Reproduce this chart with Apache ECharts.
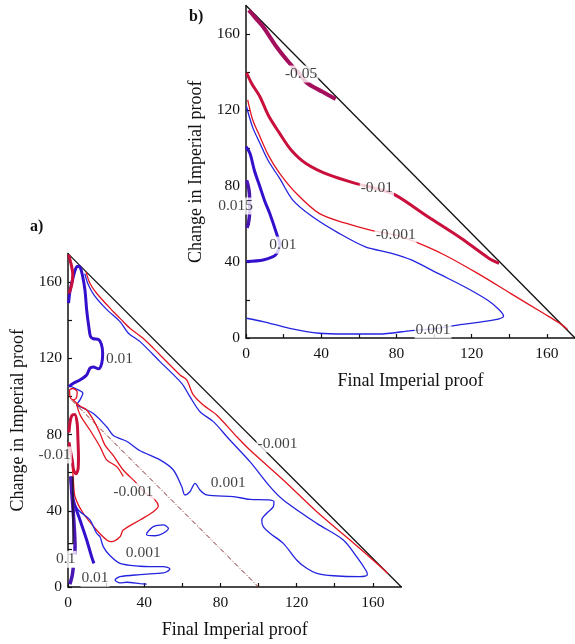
<!DOCTYPE html>
<html><head><meta charset="utf-8">
<script src="https://cdn.jsdelivr.net/npm/echarts@6/dist/echarts.min.js"></script>
<style>html,body{margin:0;padding:0;background:#fff;}#c{width:575px;height:644px;}</style>
</head><body><div id="c"></div>
<script>
// ---------- data: axis ticks ----------
const tickValues = [0, 20, 40, 60, 80, 100, 120, 140, 160];
const labelValues = [0, 40, 80, 120, 160];
const axisMax = 175;
const xTitle = 'Final Imperial proof';
const yTitle = 'Change in Imperial proof';

// ---------- panel a contours ----------
const aDiagonal = [[0, 175], [175, 0]];
const aDashDot = [[2, 98], [100, 0]];
const aRedDiag = [[9.5,165.3],[11.5,159.4],[15,154.2],[23.8,144.5],[27.3,141],[32.5,135.8],[40.4,129.7],[48.3,121.8],[58.8,111.3],[62.3,108.7],[65.8,100.8],[71,95.5],[78,90.3],[88.6,78.9],[95.5,71.9],[113,56.2],[130.6,39.5],[148,24.7],[162,12.5],[168,7]];
const aBlueBig = [[8.8,164.5],[10.5,159],[13.5,153.5],[20,146],[27.3,139.3],[31.7,133.2],[37.8,128.8],[48.3,118.3],[59.7,106.9],[64,99.9],[69.3,92],[76.3,86.8],[84.1,78.1],[95.5,65.8],[106,52.7],[113,45.7],[130.6,33.4],[144.5,24.7],[151.5,15.9],[156.8,8],[157.1,6.3],[153.3,5.4],[139.3,5.9],[130.6,7.2],[125.3,9.8],[120,14.2],[113,22.9],[106,28.2],[102.5,31.7],[101.7,35.2],[104.3,38.7],[107.8,42.2],[108.1,44.8],[105.1,45.7],[95.5,46],[86.8,47.4],[72.8,48.3],[69.3,50.9],[66.7,54.4],[64,50],[61.4,48.3],[59.7,52.7],[55.3,61.4],[48.3,66.7],[37.8,71.5],[30.8,76.5],[23.8,79.5],[20.3,84.1],[13.3,91.1],[6.3,94.6],[4.5,95.5],[6.3,98.2],[7.8,101.7],[4,104.2],[1,105.5]];
const aBlueThick = [[0.3,149],[1,155],[2.8,162.9],[4.2,167.5],[5.4,168.3],[6.5,167.5],[7.5,164],[8.9,155.9],[9.8,145.4],[11,136],[11.8,131.5],[13.3,130.3],[15.9,130],[17.5,127.5],[18.2,122.7],[17.7,117.4],[16,114.5],[13.3,115.5],[11.5,114.8],[9.8,111.3],[6.3,108.7],[2.8,106.9],[0.5,105.2]];
const aRedTop = [[0.3,174.5],[1.5,170],[2.5,164],[2,159],[0.5,154]];
const aRedThick = [[0.5,81],[1,86],[2,90],[3.5,90.5],[4.8,86],[5.2,78],[5.5,68],[5.3,62],[4.2,59.5],[3,61],[2.3,66],[1.2,72],[0.5,76]];
const aRedSmall = [[0.8,103.5],[2.5,104.2],[4.8,102.5],[4.5,99.5],[2.8,98.2],[1.2,99.5],[0.8,103.5]];
const aRedUpperBranch = [[2.8,98.2],[6.3,95],[9.8,92.9],[13.3,87.7],[16.8,80.7],[19.4,74.5],[23.8,69],[29,61.4],[35.2,55.3],[40,50],[45.7,45.7],[47.4,42.5],[44.8,39.5],[37.8,35.2],[29,29.9],[27.3,26.4],[22.9,23.8],[20.3,24.7],[15,29.9],[8,38.7],[3.7,47.4],[2.8,56.2],[2.4,62]];
const aRedLowerBranch = [[4.5,96],[6.5,90],[11.5,82.4],[16.8,73.6],[20.3,66.7],[25.6,63.2],[29,58]];
const aBlueLowThin = [[1.9,58],[2.8,45.7],[5.4,40.4],[11.5,35.2],[15,28.2],[16.8,26.4],[18.5,21.2],[22,16.5],[27.3,12.4],[37.8,10.9],[43,10.7],[50,10.7],[53.5,9.5],[51.8,8],[50,7.4],[37.8,6.5],[27.3,5.4],[24.7,3.7],[27.3,2.2],[30.8,2.5],[37.8,1.8],[41.3,1.5]];
const aBlueSmallLoop = [[41.3,28.2],[44.8,31.7],[50,32.6],[52.7,30.8],[50,28.2],[45.7,26.9],[41.3,27.3],[41.3,28.2]];
const aBlueThickLow = [[1.5,58],[2.8,45.7],[6.3,35.2],[9.8,24.7],[12.4,15.9],[13.6,12.4]];
const aPurpleUpper = [[1.5,58],[1.9,50.9],[2.8,38.7],[3.7,21.2],[3.5,17]];
const aPurpleLower = [[2.8,10.5],[2.2,6],[1,1.5]];
const aBlackThin = [[0,22.8],[2.6,22.8],[2.6,58]];
const aLabels = [
  [27, 119.5, '0.01'], [110, 75.2, '-0.001'], [-7, 69.3, '-0.01'], [34.3, 50, '-0.001'],
  [84.1, 54.4, '0.001'], [39.5, 17.7, '0.001'], [-1.2, 14.5, '0.1'], [14.2, 4.6, '0.01']
];

// ---------- panel b contours ----------
const bDiagonal = [[0, 175], [175, 0]];
const bNeg005 = [[1.5,172.5],[5,168.5],[9.1,163.8],[16.2,153.3],[23.2,144.6],[28,139.5],[32.8,134],[40.7,129.6],[47.7,125.8]];
const bNeg001 = [[0.3,139.6],[3,134],[7.4,127],[12,117],[17.9,107.7],[24,99],[31.9,91.9],[44.2,85.8],[58.2,81.4],[69.6,78.6],[79.3,75.3],[96.8,63.8],[114.4,52.5],[129.3,41.9],[134.6,39.3]];
const bNeg0001 = [[0.9,125.3],[3.5,115],[7.4,106],[12,96],[17.9,86.7],[26.7,76.2],[38.9,65.6],[53,60.4],[66.1,56.8],[79.6,54.2],[89.8,50.7],[105.6,43.7],[123.2,34],[140.7,23.5],[158.2,13],[167,7.7],[171,4.5]];
const bPos0001 = [[0.3,121.7],[3.5,111],[7.4,102.5],[12,93],[17.9,84],[24.9,72.6],[35.4,63.8],[49.5,55.1],[63.5,48],[77.5,44.6],[88,41.1],[102.1,34],[116.2,27],[128.4,20],[134.5,15],[137,11.5],[132,9.5],[112.6,6.8],[99.5,4.8],[88,3.9],[70.5,2.1],[53,2.1],[38.9,2.5],[23.2,5.1],[9.1,8.6],[0.3,10.4]];
const bPos001 = [[0,100.7],[2.1,97.2],[4.5,88],[7.4,79.6],[10,72],[12.6,65.6],[16.2,55.1],[18,49],[16.1,44.2],[14.4,42.8],[9.1,41.1],[0.3,40.2]];
const bPos0015 = [[0.3,83],[1.2,80],[1.8,76],[2,70],[1.8,64],[1.2,60],[0.5,58]];
const bLabels = [
  [29.3, 138.9, '-0.05'], [69.6, 78.8, '-0.01'], [79.6, 54.2, '-0.001'],
  [99.5, 4.2, '0.001'], [19.6, 48.9, '0.01'], [-5.5, 69.5, '0.015']
];

// ---------- styles ----------
const FONT = '"Liberation Serif", "DejaVu Serif", serif';
const C = {
  black: '#111', thinBlue: '#2323e0', thinRed: '#e3141f', thickBlue: '#3510cc',
  thickRed: '#c90f3b', purple: '#a30f5c', violet: '#4a16b4', dashdot: '#8b2a2a'
};

function line(g, data, color, width, extra) {
  return Object.assign({
    type: 'line', xAxisIndex: g, yAxisIndex: g, data: data, showSymbol: false, symbol: 'none',
    smooth: 0.3, silent: true, animation: false, z: 3,
    lineStyle: { color: color, width: width }
  }, extra || {});
}
function labels(g, arr) {
  return {
    type: 'scatter', xAxisIndex: g, yAxisIndex: g, symbolSize: 0, silent: true, animation: false,
    clip: false, z: 10,
    data: arr.map(d => ({ value: [d[0], d[1]], name: d[2] })),
    label: {
      show: true, position: 'inside', formatter: p => p.name, fontFamily: FONT, fontSize: 15.5,
      color: '#111', backgroundColor: '#fff', padding: [1, 1, 0, 1]
    }
  };
}
function xAxis(g) {
  return {
    type: 'value', gridIndex: g, min: 0, max: axisMax, name: xTitle, nameLocation: 'middle', nameGap: 34,
    nameTextStyle: { fontFamily: FONT, fontSize: 18, color: '#111' },
    axisLine: { show: true, onZero: false, lineStyle: { color: '#111', width: 1.5 } },
    axisTick: { show: true, inside: true, length: 4, customValues: tickValues, lineStyle: { color: '#111', width: 1.2 } },
    axisLabel: { customValues: labelValues, fontFamily: FONT, fontSize: 15.5, color: '#111', margin: 8 },
    splitLine: { show: false }
  };
}
function yAxis(g) {
  return {
    type: 'value', gridIndex: g, min: 0, max: axisMax, name: yTitle, nameLocation: 'middle', nameGap: 41,
    nameTextStyle: { fontFamily: FONT, fontSize: 18, color: '#111' },
    axisLine: { show: true, onZero: false, lineStyle: { color: '#111', width: 1.5 } },
    axisTick: { show: true, inside: true, length: 4, customValues: tickValues, lineStyle: { color: '#111', width: 1.2 } },
    axisLabel: { customValues: labelValues, fontFamily: FONT, fontSize: 15.5, color: '#111', margin: 6 },
    splitLine: { show: false }
  };
}

const chart = echarts.init(document.getElementById('c'), null, { renderer: 'canvas' });
chart.setOption({
  backgroundColor: '#fff',
  animation: false,
  grid: [
    { left: 68, top: 253.6, width: 333.4, height: 333.4 },
    { left: 246, top: 5.5, width: 332.5, height: 332.5 }
  ],
  xAxis: [xAxis(0), xAxis(1)],
  yAxis: [yAxis(0), yAxis(1)],
  graphic: [
    { type: 'text', left: 30, top: 219, style: { text: 'a)', font: 'bold 16px ' + FONT, fill: '#111' } },
    { type: 'text', left: 189, top: 9, style: { text: 'b)', font: 'bold 16px ' + FONT, fill: '#111' } }
  ],
  series: [
    // panel a
    line(0, aDiagonal, C.black, 1.3, { smooth: false }),
    line(0, aDashDot, C.dashdot, 1, { smooth: false, lineStyle: { color: C.dashdot, width: 1, type: [5, 2, 1, 2] } }),
    line(0, aRedDiag, C.thinRed, 1.3),
    line(0, aBlueBig, C.thinBlue, 1.3),
    line(0, aBlueThick, C.thickBlue, 3),
    line(0, aRedTop, C.thickRed, 3),
    line(0, aRedThick, C.thickRed, 3),
    line(0, aRedSmall, C.thinRed, 1.3),
    line(0, aRedUpperBranch, C.thinRed, 1.3),
    line(0, aRedLowerBranch, C.thinRed, 1.3),
    line(0, aBlueLowThin, C.thinBlue, 1.3),
    line(0, aBlueSmallLoop, C.thinBlue, 1.3),
    line(0, aBlueThickLow, C.thickBlue, 3),
    line(0, aPurpleUpper, C.violet, 3.5),
    line(0, aPurpleLower, C.violet, 3.5),
    line(0, aBlackThin, C.black, 1.2, { smooth: false }),
    labels(0, aLabels),
    // panel b
    line(1, bDiagonal, C.black, 1.3, { smooth: false }),
    line(1, bNeg005, C.purple, 4),
    line(1, bNeg001, C.thickRed, 3),
    line(1, bNeg0001, C.thinRed, 1.3),
    line(1, bPos0001, C.thinBlue, 1.3),
    line(1, bPos001, C.thickBlue, 3),
    line(1, bPos0015, C.violet, 3.5),
    labels(1, bLabels)
  ]
});
</script></body></html>
